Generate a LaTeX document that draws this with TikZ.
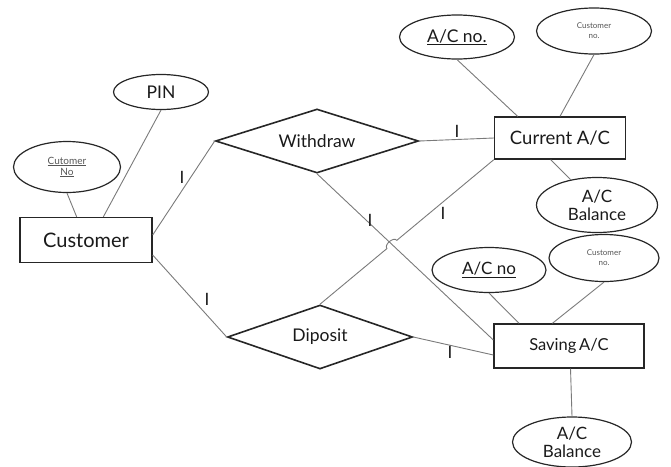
\documentclass[tikz,border=0pt]{standalone}
\usepackage{fontspec}
\setmainfont{Lato}
\usetikzlibrary{shapes.geometric,calc}
\definecolor{txt}{HTML}{1A1A1A}
\definecolor{ln}{HTML}{7A7A7A}
\definecolor{small}{HTML}{555555}
\begin{document}
\begin{tikzpicture}[x=1pt,y=-1pt,
  ent/.style={draw=black!85,line width=1.3pt,rectangle,inner sep=0pt,text=txt},
  attr/.style={draw=black!85,line width=1.2pt,ellipse,inner sep=0pt,text=txt,align=center},
  rel/.style={draw=black!85,line width=1.6pt,diamond,aspect=3,inner sep=0pt,text=txt},
  conn/.style={draw=ln,line width=0.9pt},
  card/.style={text=txt,font=\fontsize{17}{17}\selectfont,inner sep=0pt}]
\useasboundingbox (0,0) rectangle (671,466);
% entities
\node[ent,minimum width=132pt,minimum height=45pt,font=\fontsize{20}{20}\selectfont] (cust) at (86,240) {Customer};
\node[ent,minimum width=131pt,minimum height=42pt,font=\fontsize{18.5}{18.5}\selectfont] (cur) at (560,138) {Current A/C};
\node[ent,minimum width=150pt,minimum height=44pt,font=\fontsize{16.5}{16.5}\selectfont] (sav) at (569,346) {Saving\,A/C};
% relationships
\node[rel,minimum width=203pt,minimum height=64pt,font=\fontsize{17.5}{17.5}\selectfont] (wd) at (317,141) {Withdraw};
\node[rel,minimum width=185pt,minimum height=64pt,font=\fontsize{17.5}{17.5}\selectfont] (dep) at (320,337) {Diposit};
% attributes
\node[attr,minimum width=107pt,minimum height=51pt,font=\fontsize{10}{11}\selectfont,text=small] (cno) at (67,167) {\underline{Cutomer}\\\underline{No}};
\node[attr,minimum width=95pt,minimum height=35pt,font=\fontsize{17.5}{17.5}\selectfont] (pin) at (161,92) {PIN};
\node[attr,minimum width=115pt,minimum height=44pt,font=\fontsize{17.5}{17.5}\selectfont] (acno1) at (457,37) {\underline{A/C no.}};
\node[attr,minimum width=115pt,minimum height=46pt,font=\fontsize{8}{10}\selectfont,text=small] (cno1) at (594,31) {Customer\\no.};
\node[attr,minimum width=121pt,minimum height=55pt,font=\fontsize{17}{18}\selectfont] (bal1) at (597,205) {A/C\\Balance};
\node[attr,minimum width=114pt,minimum height=45pt,font=\fontsize{17}{17}\selectfont] (acno2) at (489,270) {\underline{A/C no}};
\node[attr,minimum width=110pt,minimum height=47pt,font=\fontsize{8}{10}\selectfont,text=small] (cno2) at (604,258) {Customer\\no.};
\node[attr,minimum width=119pt,minimum height=50pt,font=\fontsize{17}{18}\selectfont] (bal2) at (572,442) {A/C\\Balance};
% attribute connectors
\draw[conn] (cno.south) -- ($(cust.north west)!0.43!(cust.north east)$);
\draw[conn] (pin.south) -- ($(cust.north west)!0.63!(cust.north east)$);
\draw[conn] (acno1.south) -- ($(cur.north west)!0.18!(cur.north east)$);
\draw[conn] (cno1.south) -- ($(cur.north west)!0.5!(cur.north east)$);
\draw[conn] ($(cur.south west)!0.43!(cur.south east)$) -- (bal1.136);
\draw[conn] (acno2.south) -- ($(sav.north west)!0.17!(sav.north east)$);
\draw[conn] (cno2.south) -- ($(sav.north west)!0.39!(sav.north east)$);
\draw[conn] ($(sav.south west)!0.51!(sav.south east)$) -- (bal2.north);
% relationship connectors
\draw[conn] ([yshift=5pt]cust.east) -- (wd.west);
\draw[conn] ([yshift=-15pt]cust.east) -- (dep.west);
\draw[conn] (wd.east) -- (cur.west);
\draw[conn] (wd.south) -- ([yshift=6pt]sav.west);
\draw[conn] (dep.east) -- ([yshift=-9pt]sav.west);
\coordinate (j1) at ($(dep.north)!0.385!(cur.south west)$);
\coordinate (j2) at ($(dep.north)!0.442!(cur.south west)$);
\draw[conn] (dep.north) -- (j1) to[bend left=90] (j2) -- (cur.south west);
% cardinality labels
\node[card] (c1) at (182,177) {I};
\node[card] (c2) at (207,299) {I};
\node[card] (c3) at (457,131) {I};
\node[card] (c4) at (443,213) {I};
\node[card] (c5) at (370,220) {I};
\node[card] (c6) at (450,352) {I};
\end{tikzpicture}
\end{document}
